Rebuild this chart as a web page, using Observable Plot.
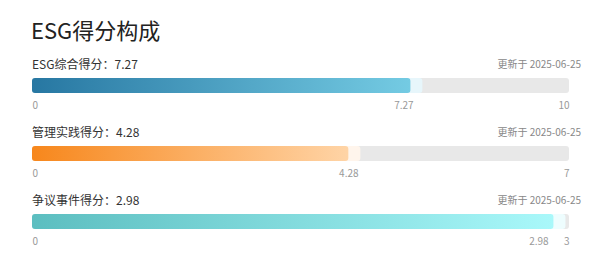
<!DOCTYPE html>
<html>
<head>
<meta charset="utf-8">
<script src="https://cdn.jsdelivr.net/npm/d3@7"></script>
<script src="https://cdn.jsdelivr.net/npm/@observablehq/plot@0.6"></script>
<style>
  html, body { margin: 0; padding: 0; background: #fff; }
  body { width: 600px; height: 261px; position: relative; overflow: hidden;
         font-family: "Noto Sans CJK SC", "Noto Sans", sans-serif; }
  #title { position: absolute; left: 31px; top: 14px; font-size: 22px; color: #222; line-height: 30px; }
  .hdr { position: absolute; left: 32px; width: 549px; height: 18px; display: flex;
         justify-content: space-between; align-items: center; }
  .hdr .name { font-size: 12px; color: #333; }
  .hdr .date { font-size: 10px; color: #888; }
  .row { position: absolute; left: 0; }
</style>
</head>
<body>
<div id="title">ESG得分构成</div>
<script>
// ---- data ----
const names = ["ESG综合得分", "管理实践得分", "争议事件得分"];
const scores = [7.27, 4.28, 2.98];
const maxima = [10, 7, 3];
const updated = ["2025-06-25", "2025-06-25", "2025-06-25"];

// ---- styles ----
const gradFrom = ["#2777a2", "#f7871c", "#5cbec0"];
const gradTo = ["#74cbe3", "#ffd4a6", "#a9f8fa"];
const capFill = ["#e7f6fb", "#fff5ec", "#eefdfe"];
const labelShift = [-19, -12, -27];
const rowTop = 78, rowGap = 68;

names.forEach((name, i) => {
  const top = rowTop + i * rowGap;
  const hdr = document.createElement("div");
  hdr.className = "hdr";
  hdr.style.top = (top - 24) + "px";
  hdr.innerHTML = `<span class="name">${name}：${scores[i]}</span><span class="date">更新于 ${updated[i]}</span>`;
  document.body.appendChild(hdr);

  const d = [{v: scores[i], m: maxima[i]}];
  const plot = Plot.plot({
    width: 600,
    height: 40,
    marginLeft: 32,
    marginRight: 31,
    marginTop: 0,
    marginBottom: 0,
    x: {domain: [0, maxima[i]], axis: null},
    y: {domain: [0, 1], range: [0, 15], axis: null},
    marks: [
      Plot.rect(d, {x1: 0, x2: "m", y1: 0, y2: 1, fill: "#e8e8e8", rx: 3}),
      Plot.rect(d, {x1: 0, x2: "v", y1: 0, y2: 1, fill: capFill[i], rx: 3}),
      Plot.rect(d, {x1: 0, x2: "v", y1: 0, y2: 1, insetRight: 12, fill: gradFrom[i], rx: 3, className: "grad-bar"}),
      Plot.text([0], {x: d => d, y: 1.8, text: d => String(d), textAnchor: "start", fill: "#999", fontSize: 10}),
      Plot.text(d, {x: "v", y: 1.8, text: d => String(d.v), textAnchor: "middle", dx: labelShift[i], fill: "#999", fontSize: 10}),
      Plot.text(d, {x: "m", y: 1.8, text: d => String(d.m), textAnchor: "end", fill: "#999", fontSize: 10})
    ]
  });
  const svg = d3.select(plot);
  svg.style("font-family", '"Noto Sans CJK SC", "Noto Sans", sans-serif').style("overflow", "visible");
  const g = svg.append("defs").append("linearGradient").attr("id", "g" + i)
    .attr("x1", "0%").attr("x2", "100%").attr("y1", "0%").attr("y2", "0%");
  g.append("stop").attr("offset", "0%").attr("stop-color", gradFrom[i]);
  g.append("stop").attr("offset", "100%").attr("stop-color", gradTo[i]);
  svg.selectAll(".grad-bar rect").attr("fill", "url(#g" + i + ")");
  const wrap = document.createElement("div");
  wrap.className = "row";
  wrap.style.top = top + "px";
  wrap.appendChild(plot);
  document.body.appendChild(wrap);
});
</script>
</body>
</html>
